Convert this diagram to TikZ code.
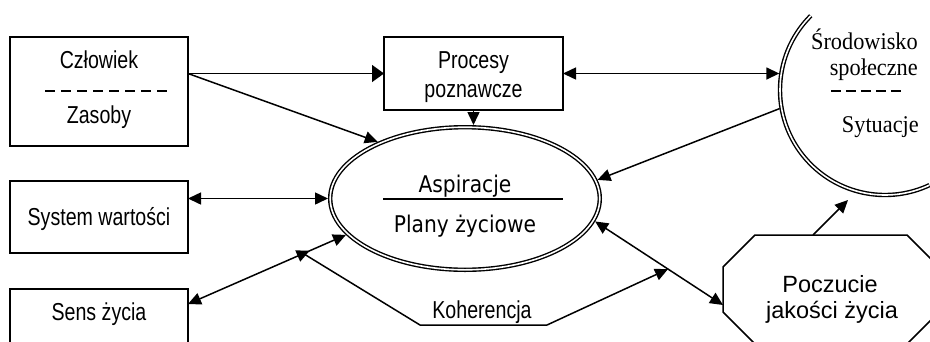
\documentclass[tikz,border=0pt]{standalone}
\usepackage{fontspec}
\setmainfont{Liberation Sans}
\newfontfamily\arn[FakeStretch=0.8]{Liberation Sans}
\newfontfamily\arr{Liberation Sans}
\newfontfamily\dvs[FakeStretch=0.88]{DejaVu Sans}
\newfontfamily\tms[FakeStretch=0.93]{Liberation Serif}
\usetikzlibrary{arrows.meta,shapes.geometric,decorations.markings,calc}
\begin{document}
\begin{tikzpicture}[x=1pt,y=-1pt,
  box/.style={draw, line width=1.5pt, inner sep=0pt, outer sep=0pt},
  lbl/.style={inner sep=0pt, anchor=base, font=\arn\fontsize{24.5}{29}\selectfont},
  lblv/.style={inner sep=0pt, anchor=base, font=\dvs\fontsize{23}{28}\selectfont},
  lblp/.style={inner sep=0pt, anchor=base, font=\arr\fontsize{23.5}{28}\selectfont},
  lbls/.style={inner sep=0pt, anchor=base east, font=\tms\fontsize{24}{28}\selectfont},
  conn/.style={line width=1.5pt},
  tipto/.style={-{Triangle[length=13pt,width=12pt]}},
  tipboth/.style={{Triangle[length=13pt,width=12pt]}-{Triangle[length=13pt,width=12pt]}},
  dbl/.style={double, line width=1.4pt, double distance=1.6pt},
  sep/.style={line width=1.4pt, dash pattern=on 10pt off 6pt},
]
\useasboundingbox (0,0) rectangle (930,341);
\clip (0,0) rectangle (930,341);

% boxes
\node[box, minimum width=178pt, minimum height=109pt] (czl) at (99,91.5) {};
\node[box, minimum width=179pt, minimum height=73pt] (pro) at (473.5,73.5) {};
\node[box, minimum width=178pt, minimum height=72pt] (sys) at (99,217) {};
\node[box, minimum width=178pt, minimum height=72pt] (sens) at (99,325) {};

% texts in boxes
\node[lbl] (czlt) at (99,68) {Człowiek};
\node[lbl] (zast) at (99,123) {Zasoby};
\draw[sep] (45,91) -- (171,91);
\node[lbl] (prot1) at (473.5,68) {Procesy};
\node[lbl] (prot2) at (473.5,97) {poznawcze};
\node[lbl] (syst) at (99,225) {System wartości};
\node[lbl] (senst) at (99,320) {Sens życia};

% central ellipse
\node[ellipse, draw, dbl, minimum width=269.6pt, minimum height=142.6pt, inner sep=0pt, outer sep=2.2pt] (asp) at (465,198.5) {};
\node[lblv] (aspt1) at (465,192) {Aspiracje};
\node[lblv] (aspt2) at (465,232) {Plany życiowe};
\draw[line width=1.2pt] (383,199) -- (563,199);

% Srodowisko spoleczne
\node[circle, draw=none, minimum size=214pt, inner sep=0pt, outer sep=0pt] (sro) at (885,90) {};
\draw[dbl] (sro.center) ++(135:105pt) arc[start angle=135, end angle=295, radius=105pt];
\node[lbls] (srot1) at (918,49) {Środowisko};
\node[lbls] (srot2) at (918,75) {społeczne};
\draw[line width=1.4pt, dash pattern=on 10pt off 5pt] (831,91) -- (902,91);
\node[lbls] (srot3) at (919,132) {Sytuacje};

% Poczucie jakosci zycia
\draw[line width=1.5pt] (755,235) -- (907,235) -- (939,267) -- (939,312) -- (907,344) -- (755,344) -- (723,312) -- (723,267) -- cycle;
\coordinate (pocL) at (723,305);
\coordinate (pocT) at (813,235);
\coordinate (sroB) at (848,200);
\node[lblp] (poct1) at (830,292) {Poczucie};
\node[lblp] (poct2) at (832,318) {jakości życia};

% connectors
\coordinate (czlA) at (czl.east |- pro.west);
\draw[conn, -{Triangle[length=12pt,width=17pt]}] (czlA) -- (pro.west);
\draw[conn, tipto] (czlA) -- (asp.147);
\draw[conn, tipto] (pro.south) -- (pro.south |- asp.north);
\draw[conn, tipboth] (pro.east) -- (pro.east -| sro.171);
\draw[conn, tipto] (sro.190) -- (asp.8);
\draw[conn, tipboth] (sys.east |- asp.west) -- (asp.west);
\coordinate (sensA) at ([yshift=-15pt]sens.north east);
\draw[conn, tipboth, postaction={decorate}, decoration={markings, mark=at position 0.77 with {\arrow{Triangle[length=13pt,width=12pt]}}}] (sensA) -- (asp.197);
\draw[conn, tipboth] (asp.350) -- (pocL);
\draw[conn, tipto] (pocT) -- (sroB);

% Koherencja
\coordinate (kohA) at ($(sensA)!0.73!(asp.197)$);
\coordinate (kohB) at ($(asp.350)!0.57!(pocL)$);
\draw[conn, tipto] (kohA) -- (420,325) -- (547,325) -- (kohB);
\node[lbl] (koht) at (482,318) {Koherencja};
\end{tikzpicture}
\end{document}
